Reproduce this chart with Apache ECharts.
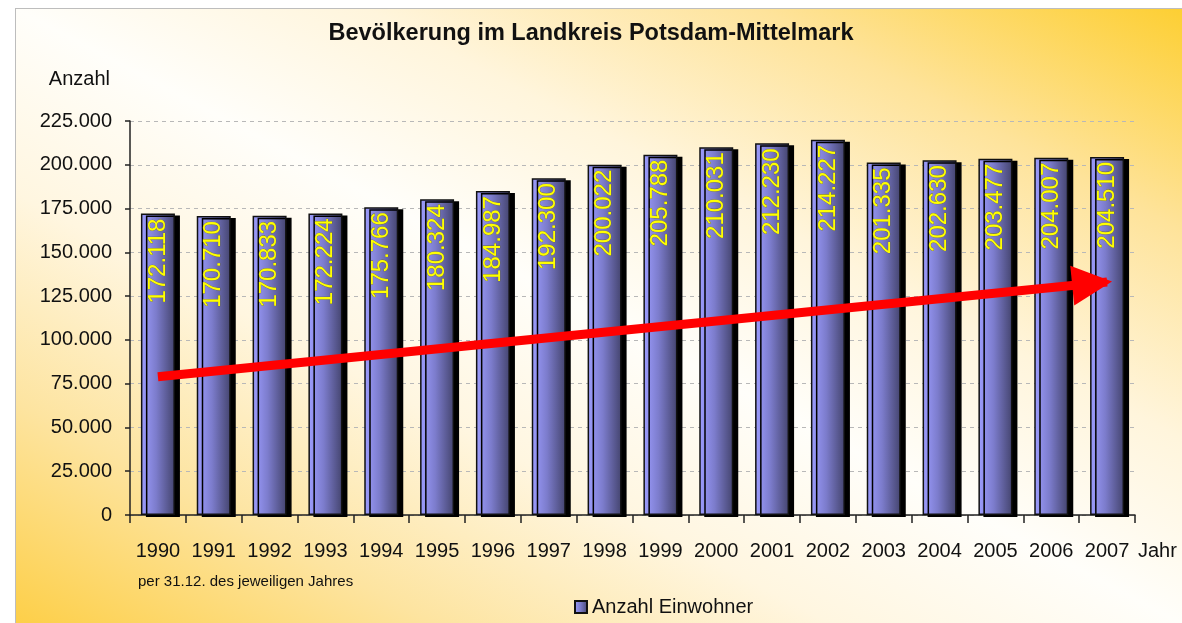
<!DOCTYPE html>
<html>
<head>
<meta charset="utf-8">
<script src="https://cdn.jsdelivr.net/npm/echarts@6/dist/echarts.min.js"></script>
<style>
  html, body { margin: 0; padding: 0; background: #fff; }
  /* Rahmen mit Farbverlauf wie im Excel-Diagramm */
  #frame {
    position: absolute; left: 15px; top: 8px; width: 1167px; height: 615px;
    border-top: 1px solid #bdbdbd; border-left: 1px solid #bdbdbd;
    background: linear-gradient(to top right, #fdcf48 0%, #fde4a0 18%, #fff6e0 35%, #fffefa 50%, #fff5dc 65%, #fee39a 82%, #fdcf33 100%);
  }
  #chart { position: absolute; left: 0; top: 0; width: 1182px; height: 623px; }
</style>
</head>
<body>
<div id="frame"></div>
<div id="chart"></div>
<script>
// Jahre (Stand 31.12.)
const years = ['1990', '1991', '1992', '1993', '1994', '1995', '1996', '1997', '1998',
  '1999', '2000', '2001', '2002', '2003', '2004', '2005', '2006', '2007']
// Einwohnerzahlen
const einwohner = [172118, 170710, 170833, 172224, 175766, 180324, 184987, 192300, 200022,
  205788, 210031, 212230, 214227, 201335, 202630, 203477, 204007, 204510]
// Trendpfeil (Start/Ende in Datenkoordinaten)
const arrowStart = ['1990', 79000]
const arrowEnd = ['2007', 133000]

const FONT = '"Liberation Sans", Arial, sans-serif'

// Tausenderpunkt: 172118 -> 172.118
function fmt(v) {
  return String(v).replace(/\B(?=(\d{3})+(?!\d))/g, '.')
}

const chart = echarts.init(document.getElementById('chart'), null, { renderer: 'canvas' })

const barGradient = new echarts.graphic.LinearGradient(0, 0, 1, 0, [
  { offset: 0, color: '#9d9dff' },
  { offset: 0.45, color: '#7c7ccc' },
  { offset: 1, color: '#44446e' },
])

const option = {
  animation: false,
  backgroundColor: 'transparent',
  textStyle: { fontFamily: FONT },
  title: {
    text: 'Bevölkerung im Landkreis Potsdam-Mittelmark',
    left: 'center',
    top: 17,
    textStyle: { fontFamily: FONT, fontSize: 23.5, fontWeight: 'bold', color: '#111' },
  },
  grid: {
    left: 130,
    right: 47,
    top: 121,
    bottom: 108,
  },
  legend: {
    left: 569,
    top: 592,
    icon: 'rect',
    itemWidth: 12,
    itemHeight: 12,
    itemGap: 4,
    textStyle: { fontFamily: FONT, fontSize: 20, color: '#111' },
    data: ['Anzahl Einwohner'],
  },
  xAxis: {
    type: 'category',
    data: years,
    name: 'Jahr',
    nameLocation: 'end',
    nameGap: 3,
    nameTextStyle: { fontFamily: FONT, fontSize: 20, color: '#111', verticalAlign: 'top', padding: [26, 0, 0, 0] },
    axisLine: { lineStyle: { color: '#222', width: 1.5 } },
    axisTick: { show: true, inside: false, length: 8, lineStyle: { color: '#222', width: 1.5 } },
    axisLabel: { interval: 0, margin: 26, fontSize: 20, color: '#111', fontFamily: FONT, hideOverlap: false },
    splitLine: { show: false },
  },
  yAxis: {
    type: 'value',
    min: 0,
    max: 225000,
    interval: 25000,
    name: 'Anzahl',
    nameLocation: 'end',
    nameGap: 32,
    nameTextStyle: { fontFamily: FONT, fontSize: 20, color: '#111', align: 'right', padding: [0, 20, 0, 0] },
    axisLine: { show: true, lineStyle: { color: '#222', width: 1.5 } },
    axisTick: { show: true, length: 5, lineStyle: { color: '#222', width: 1.5 } },
    axisLabel: { margin: 18, fontSize: 20, color: '#111', fontFamily: FONT, formatter: fmt },
    splitLine: { show: true, lineStyle: { color: '#b8b8b8', type: [4, 4], width: 1 } },
  },
  graphic: [
    {
      type: 'text',
      left: 138,
      top: 574,
      style: { text: 'per 31.12. des jeweiligen Jahres', fontFamily: FONT, fontSize: 15, fill: '#111' },
    },
  ],
  series: [
    {
      name: 'Anzahl Einwohner',
      type: 'bar',
      data: einwohner,
      barWidth: 34,
      itemStyle: {
        color: barGradient,
        borderColor: '#111',
        borderWidth: 1.5,
        shadowColor: '#000',
        shadowBlur: 0.5,
        shadowOffsetX: 5,
        shadowOffsetY: 2,
      },
      label: {
        show: true,
        position: 'insideTop',
        distance: 5,
        rotate: 90,
        align: 'right',
        verticalAlign: 'middle',
        color: '#ffff00',
        fontSize: 24,
        fontFamily: FONT,
        textBorderColor: '#6a6a30',
        textBorderWidth: 0.6,
        formatter: p => fmt(p.value),
      },
      emphasis: { disabled: true },
      markLine: {
        silent: true,
        animation: false,
        symbol: ['none', 'triangle'],
        symbolSize: [40, 40],
        // Pfeilspitze zurückschieben, damit die Spitze am Endpunkt liegt
        symbolOffset: [0, [0, 15]],
        label: { show: false },
        lineStyle: { color: '#ff0000', width: 9, type: 'solid', opacity: 1 },
        emphasis: { disabled: true },
        data: [[{ coord: arrowStart }, { coord: arrowEnd }]],
      },
    },
  ],
}

chart.setOption(option)
</script>
</body>
</html>
